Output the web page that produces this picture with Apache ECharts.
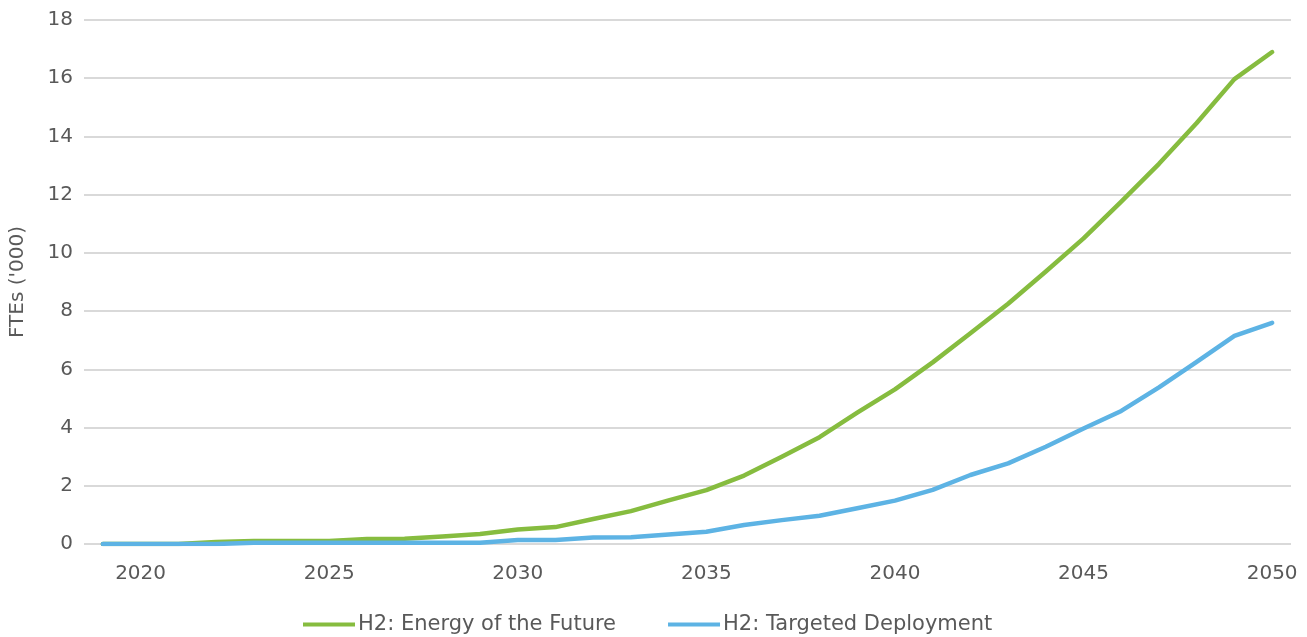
<!DOCTYPE html>
<html>
<head>
<meta charset="utf-8">
<title>FTEs</title>
<script src="https://cdn.jsdelivr.net/npm/echarts@6/dist/echarts.min.js"></script>
<style>
  html, body { margin: 0; padding: 0; background: #fff; }
  #chart { width: 1307px; height: 637px; }
</style>
</head>
<body>
<div id="chart"></div>
<script>
// years on the x axis
const years = [];
for (let y = 2019; y <= 2050; y++) years.push(String(y));

// H2: Energy of the Future ('000 FTEs)
const energyFuture = [
  0, 0, 0, 0.07, 0.1, 0.1, 0.1, 0.17, 0.18, 0.26, 0.34,
  0.5, 0.58, 0.86, 1.13, 1.5, 1.85, 2.35, 3.0, 3.67, 4.51,
  5.31, 6.24, 7.24, 8.25, 9.36, 10.5, 11.76, 13.06, 14.46, 15.97, 16.9
];

// H2: Targeted Deployment ('000 FTEs)
const targeted = [
  0, 0, 0, 0, 0.04, 0.04, 0.04, 0.04, 0.04, 0.04, 0.04,
  0.14, 0.14, 0.22, 0.23, 0.33, 0.42, 0.65, 0.82, 0.97, 1.23,
  1.49, 1.86, 2.37, 2.77, 3.34, 3.97, 4.57, 5.38, 6.26, 7.15, 7.6
];

const FONT = "DejaVu Sans";
const TXT = "#595959";

const chart = echarts.init(document.getElementById("chart"));

const option = {
  animation: false,
  grid: { left: 84, right: 16, top: 20, bottom: 93, outerBoundsMode: "none" },
  legend: {
    top: 609,
    left: 298,
    itemWidth: 52,
    itemHeight: 4,
    itemGap: 52,
    icon: "rect",
    textStyle: { color: TXT, fontFamily: FONT, fontSize: 21, padding: [0, 0, 0, -2] },
    data: ["H2: Energy of the Future", "H2: Targeted Deployment"]
  },
  xAxis: {
    type: "category",
    data: years,
    boundaryGap: true,
    axisLine: { show: false },
    axisTick: { show: false },
    axisLabel: {
      color: TXT,
      fontFamily: FONT,
      fontSize: 20,
      margin: 20,
      interval: (i) => (i - 1) % 5 === 0
    }
  },
  yAxis: {
    type: "value",
    min: 0,
    max: 18,
    interval: 2,
    name: "FTEs ('000)",
    nameLocation: "middle",
    nameGap: 56,
    nameMoveOverlap: false,
    nameTextStyle: { color: TXT, fontFamily: FONT, fontSize: 20 },
    axisLine: { show: false },
    axisTick: { show: false },
    axisLabel: { color: TXT, fontFamily: FONT, fontSize: 20, margin: 11 },
    splitLine: { lineStyle: { color: "#d9d9d9", width: 2 } }
  },
  series: [
    {
      name: "H2: Energy of the Future",
      type: "line",
      data: energyFuture,
      showSymbol: false,
      symbol: "none",
      color: "#86bc3f",
      lineStyle: { width: 4.5, cap: "round", join: "round" }
    },
    {
      name: "H2: Targeted Deployment",
      type: "line",
      data: targeted,
      showSymbol: false,
      symbol: "none",
      color: "#5db3e4",
      lineStyle: { width: 4.5, cap: "round", join: "round" }
    }
  ]
};

chart.setOption(option);
</script>
</body>
</html>
